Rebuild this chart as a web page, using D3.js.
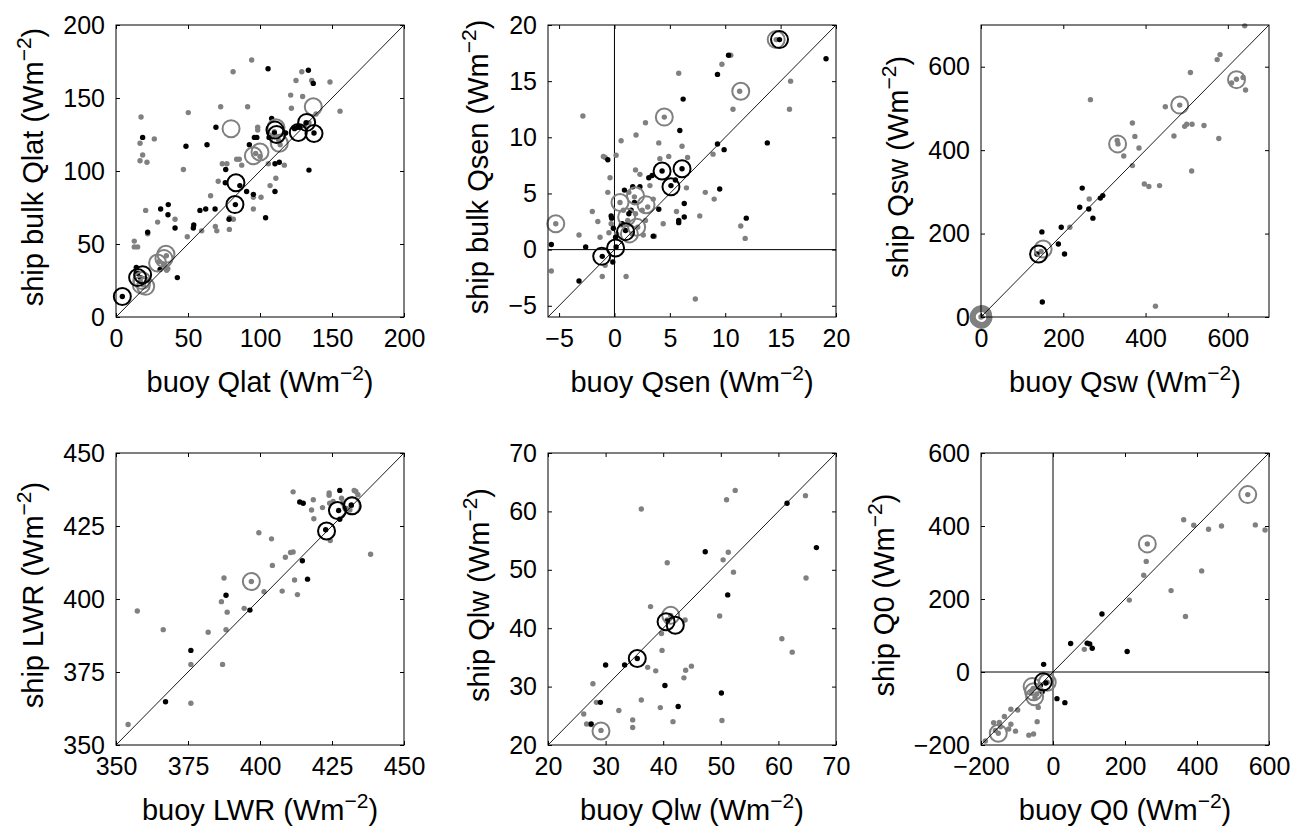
<!DOCTYPE html>
<html><head><meta charset="utf-8">
<script src="https://cdn.jsdelivr.net/npm/d3@7"></script>
<style>
body{margin:0;background:#fff}
svg{display:block}
text{font-family:"Liberation Sans",Arial,Helvetica,sans-serif;fill:#000}
</style>
</head><body>
<svg id="c" width="1294" height="827"></svg>
<script>
// ---------- Panel 1: latent heat flux ----------
const qlatDomain = [0, 200];
const qlatTicks = [0, 50, 100, 150, 200];
const qlatGray = [[12.7,52],[12.7,48],[16.7,119],[17.4,137],[18.5,111],[16.7,107],[21.5,106],[20.6,73],[22,57],[26.6,122],[28.9,65],[41,67],[35.2,32],[46.8,101],[50.2,140],[49.5,55],[59.5,59],[65.7,83],[72.7,144],[73.8,105],[71,93],[77,105],[69,62],[70,59],[78.7,60],[81.5,67],[83.8,108],[85.6,108],[87.3,104],[81.3,168],[94.2,176],[91.4,144],[95.4,82],[95.4,74],[98.4,130],[98.4,128],[100.7,82],[105.8,105],[107,90],[111,95],[113,121],[116.9,104],[121.3,152],[125,162],[129,168],[129.6,151],[121.8,143],[135.9,162],[148.6,161],[155.6,141],[138.9,139],[17,24],[19,22],[22,25],[30,38],[33,36],[35,42],[79,68],[97,112],[100,110],[110,127],[114,118],[131,131],[134,133],[36,33],[15,48]];
const qlatBlack = [[4.4,14],[14.1,34],[18.5,123],[22,58],[31,74],[30.6,32.5],[36.3,77],[36.1,70],[41,61],[42.6,27],[48.6,117],[53.7,61],[54,63],[58.3,73],[62.3,74],[63.2,118],[69.4,130],[68.8,74],[76.2,101],[75.9,92],[78.5,67],[82.9,77],[90.7,86],[92.6,118],[96.1,123],[97.8,123],[95.4,84],[103.9,68],[106.3,123],[105.6,170],[108.1,136],[110.4,105],[113.4,106],[110.4,86],[117.8,126],[124,129],[126,130],[127.5,130],[133.6,169],[134,100.6],[137,160],[137.5,126],[86,90],[110,126],[132,133],[17,27],[15,30]];
const qlatBlackCircles = [[4.4,14],[15,27],[18.5,29],[83.3,92],[82.6,77],[110.4,128],[126.6,126.4],[132.4,133.3],[137.5,125.7],[111.5,125]];
const qlatGrayCircles = [[17.6,22],[20.6,21],[28.9,37],[34.7,43],[33.3,40],[79.9,129],[95.4,110.4],[100,113],[111.1,129.6],[113.4,119],[137,144],[18,25]];

// ---------- Panel 2: sensible heat flux ----------
const qsenDomain = [-6, 20];
const qsenTicks = [-5, 0, 5, 10, 15, 20];
const qsenGray = [[-5.7,-1.9],[-5.3,2.3],[-3.2,1.3],[-2.85,11.9],[-2,3.4],[-1.5,2.5],[-1.3,1.1],[-1.1,-2.4],[-1,8.3],[-0.84,8.2],[-0.84,-1.4],[-0.6,5.1],[-0.4,6.4],[-0.3,2.3],[0.15,8.4],[0.6,9.7],[1.05,-2.4],[1.3,5.1],[1.95,10.2],[1.9,7.1],[2.3,6.7],[2.8,11.3],[3.2,5.7],[3.5,4.5],[4,9.5],[4.1,8.1],[4.4,2.3],[4.5,11.8],[4.9,8.3],[5.8,15.7],[6.1,9.2],[6.5,5.5],[5.6,3.4],[6.6,8.2],[7.3,-4.4],[7.7,3.0],[8.2,5.1],[8.9,8.5],[9,4.5],[9.7,16.5],[10.5,17.3],[10.7,12.5],[11.3,14.1],[11.4,2.1],[11.8,1.0],[14.6,18.7],[15.9,15],[15.8,12.5],[0.5,4.2],[0.8,3.5],[1.2,2.6],[1.6,1.4],[2.1,2],[2.5,3.5],[3,3.8],[1.8,4.7],[2.6,1.3],[0.2,1.4],[0.6,2.2],[-0.5,1.5],[1.9,3.2],[3.6,1.2],[2.8,2.6]];
const qsenBlack = [[-5.7,0.45],[-3.2,-2.8],[-2.6,0.24],[-1.1,-0.6],[-0.6,8],[-0.3,3],[-0.25,2.8],[-0.15,-1.1],[-0.1,1.9],[0.15,0.24],[0.9,5.3],[1,1.7],[1.3,3.2],[1.65,5.6],[1.8,4.2],[2.3,5.6],[3.4,6.6],[3.5,1.2],[4,3.6],[4.3,7],[5.1,5.7],[5.5,6.2],[5.8,2.4],[5.8,2.6],[5.9,10.6],[6.1,7.2],[6.2,13.4],[6.3,4.1],[6.3,2.9],[9.3,15.6],[9.3,9.4],[9.5,5.4],[9.9,8.9],[10.3,17.3],[11.9,2.8],[13.8,9.5],[14.9,18.7],[19.1,17],[1.5,3.5],[0.7,2.3],[3.1,6.4],[0.1,1.1]];
const qsenBlackCircles = [[-1.15,-0.6],[0.1,0.15],[1,1.6],[4.3,7],[5.1,5.6],[6.1,7.2],[14.9,18.7]];
const qsenGrayCircles = [[-5.3,2.3],[0.5,4.2],[1.9,4.8],[2.85,4],[1.1,2.9],[2,2],[1.35,1.4],[4.5,11.8],[11.4,14.1],[14.6,18.7]];

// ---------- Panel 3: shortwave ----------
const qswDomain = [0, 700];
const qswTicks = [0, 200, 400, 600];
const qswGray = [[0,0],[2,1],[146,157],[216,215],[263,283],[266,521],[331,423],[333,415],[347,386],[368,465],[374,433],[368,363],[384,405],[397,319],[408,313],[434,315],[424,26],[448,504],[469,434],[483,508],[495,457],[500,462],[509,586],[513,462],[512,350],[542,459],[574,617],[581,629],[578,428],[621,570],[609,561],[637,574],[643,544],[641,698]];
const qswBlack = [[148,204],[149,36],[136,151],[188,175],[195,215],[203,151],[240,263],[246,309],[262,259],[272,237],[290,285],[296,291]];
const qswBlackCircles = [[140,151]];
const qswGrayCircles = [[151,163],[332,415],[483,508],[621,569],[0,0],[4,3],[-3,2],[2,-4],[-4,-3],[5,-2],[-2,5],[3,6],[-5,0],[1,-6]];

// ---------- Panel 4: longwave radiation ----------
const lwrDomain = [350, 450];
const lwrTicks = [350, 375, 400, 425, 450];
const lwrGray = [[354.2,357],[357.4,395.9],[366.4,389.5],[376,377.6],[376,364.3],[382,388.6],[387,377.6],[386.6,399.1],[387.5,407.2],[388.6,395.5],[388.2,389.5],[394.5,396.8],[397,406],[399.6,422.7],[401.4,402.5],[404,420.6],[404.3,411.5],[407.7,402.7],[408.8,414.3],[410.6,415.9],[411.5,416.1],[412,406.5],[413,401.5],[411.5,436.7],[417.9,430.5],[418.5,434],[418.7,427.5],[421.7,431.3],[424,436.3],[424,435.5],[424.2,432.8],[424.4,420],[425.4,433.4],[428.3,434.5],[428.8,432.8],[432.7,437.2],[433.3,436.8],[434,435.7],[438.4,415.3],[430,431],[431.2,430.5],[431.7,431.9]];
const lwrBlack = [[367.2,364.8],[376,382.4],[388.2,401.3],[396.5,396.2],[413.8,433.2],[415,432.8],[414.7,413.1],[416.5,406.8],[422.8,423.7],[427.7,437.2],[427.3,430.3],[427.7,427.3],[431.7,432.2]];
const lwrBlackCircles = [[423.1,423.3],[426.9,430.3],[432,431.9]];
const lwrGrayCircles = [[397,406],[431.7,431.9]];

// ---------- Panel 5: net longwave ----------
const qlwDomain = [20, 70];
const qlwTicks = [20, 30, 40, 50, 60, 70];
const qlwGray = [[26.2,25.3],[26.7,23.6],[27.4,23.5],[27.8,30.5],[28.4,27.3],[29.2,22.5],[32.3,25.9],[34.7,24.3],[34.7,23],[36.2,60.4],[36.2,27.7],[37.3,33.3],[37.8,43.7],[38.7,32.7],[39.5,26.4],[39.8,36.2],[39.7,39.1],[40.7,51.2],[40.7,41.4],[41.7,24],[43.6,31.5],[43.9,32.8],[43.8,41.4],[44.9,33.5],[49.8,42.1],[50.2,24.2],[50.4,51.7],[51,62],[51.3,53],[52.2,49.6],[52.5,63.6],[60.6,38.2],[62.4,35.9],[64.7,62.7],[64.8,48.6],[41.3,42.2]];
const qlwBlack = [[27.5,23.6],[29.1,27.3],[30,33.7],[33.3,33.7],[35.5,34.8],[40.3,30.2],[40.7,41.2],[42.6,26.6],[47.3,53.1],[50.1,28.9],[51.2,45.7],[61.5,61.4],[66.6,53.8]];
const qlwBlackCircles = [[35.5,34.8],[40.5,41.1],[42.1,40.5]];
const qlwGrayCircles = [[41.3,42.2],[29.2,22.4]];

// ---------- Panel 6: net heat flux ----------
const q0Domain = [-200, 600];
const q0Ticks = [-200, 0, 200, 400, 600];
const q0Gray = [[-188,-189],[-165,-139],[-149,-138],[-146,-150],[-135,-122],[-123,-156],[-117,-143],[-117,-102],[-104,-162],[-98,-104],[-67,-173],[-54,-170],[-44,-136],[-41,-97],[87,62],[212,197],[252,265],[259,303],[262,351],[328,223],[363,417],[368,152],[391,402],[413,277],[432,391],[468,400],[541,486],[562,403],[589,389],[-152,-168],[-160,-160],[-55,-45],[-45,-60],[-50,-70],[-16,-28],[-60,-55],[-35,-50]];
const q0Black = [[-26,21],[11,-73],[33,-84],[49,78],[95,79],[102,77],[109,65],[136,159],[206,56],[-35,-36],[-30,-54],[-20,-30]];
const q0BlackCircles = [[-27,-27]];
const q0GrayCircles = [[-152,-168],[-58,-40],[-54,-54],[-51,-68],[-16,-28],[262,351],[541,486]];

const xLabels = ["buoy Qlat", "buoy Qsen", "buoy Qsw", "buoy LWR", "buoy Qlw", "buoy Q0"];
const yLabels = ["ship bulk Qlat", "ship bulk Qsen", "ship Qsw", "ship LWR", "ship Qlw", "ship Q0"];
const unitMain = " (Wm", unitSup = "\u22122", unitEnd = ")";

const panels = [
  {dom: qlatDomain, ticks: qlatTicks, gray: qlatGray, black: qlatBlack, gc: qlatGrayCircles, bc: qlatBlackCircles, zero: false},
  {dom: qsenDomain, ticks: qsenTicks, gray: qsenGray, black: qsenBlack, gc: qsenGrayCircles, bc: qsenBlackCircles, zero: true},
  {dom: qswDomain, ticks: qswTicks, gray: qswGray, black: qswBlack, gc: qswGrayCircles, bc: qswBlackCircles, zero: false},
  {dom: lwrDomain, ticks: lwrTicks, gray: lwrGray, black: lwrBlack, gc: lwrGrayCircles, bc: lwrBlackCircles, zero: false},
  {dom: qlwDomain, ticks: qlwTicks, gray: qlwGray, black: qlwBlack, gc: qlwGrayCircles, bc: qlwBlackCircles, zero: false},
  {dom: q0Domain, ticks: q0Ticks, gray: q0Gray, black: q0Black, gc: q0GrayCircles, bc: q0BlackCircles, zero: true}
];

// ---------- layout ----------
const colX = [116, 548, 981], rowY = [25, 453];
const W = 288, H = 292;
const GRAY = "#808080";
const TICK_FS = 25, LAB_FS = 29, SUP_FS = 21;

const svg = d3.select("#c");
svg.append("rect").attr("width", 1294).attr("height", 827).attr("fill", "#fff");

function addLabel(sel, main) {
  sel.append("tspan").text(main + unitMain);
  sel.append("tspan").attr("font-size", SUP_FS).attr("dy", -12).text(unitSup);
  sel.append("tspan").attr("dy", 12).text(unitEnd);
}

panels.forEach((p, i) => {
  const g = svg.append("g").attr("transform", `translate(${colX[i % 3]},${rowY[Math.floor(i / 3)]})`);
  const x = d3.scaleLinear().domain(p.dom).range([0, W]);
  const y = d3.scaleLinear().domain(p.dom).range([H, 0]);

  // zero lines
  if (p.zero) {
    g.append("line").attr("x1", x(0)).attr("x2", x(0)).attr("y1", 0).attr("y2", H)
      .attr("stroke", "#000").attr("stroke-width", 1);
    g.append("line").attr("x1", 0).attr("x2", W).attr("y1", y(0)).attr("y2", y(0))
      .attr("stroke", "#000").attr("stroke-width", 1);
  }

  // markers (not clipped, like the original)
  const pts = g.append("g");
  pts.selectAll(".gd").data(p.gray).join("circle")
    .attr("cx", d => x(d[0])).attr("cy", d => y(d[1])).attr("r", 2.7).attr("fill", GRAY);
  pts.selectAll(".bd").data(p.black).join("circle")
    .attr("cx", d => x(d[0])).attr("cy", d => y(d[1])).attr("r", 2.7).attr("fill", "#000");
  pts.selectAll(".gc").data(p.gc).join("circle")
    .attr("cx", d => x(d[0])).attr("cy", d => y(d[1])).attr("r", 8.5)
    .attr("fill", "none").attr("stroke", GRAY).attr("stroke-width", 2);
  pts.selectAll(".bc").data(p.bc).join("circle")
    .attr("cx", d => x(d[0])).attr("cy", d => y(d[1])).attr("r", 8.5)
    .attr("fill", "none").attr("stroke", "#000").attr("stroke-width", 2);

  // 1:1 line
  g.append("line").attr("x1", x(p.dom[0])).attr("y1", y(p.dom[0]))
    .attr("x2", x(p.dom[1])).attr("y2", y(p.dom[1]))
    .attr("stroke", "#000").attr("stroke-width", 0.9);

  // axes with inward ticks on all sides
  const fmt = d3.format("d");
  const ax = g.append("g").attr("transform", `translate(0,${H})`)
    .call(d3.axisBottom(x).tickValues(p.ticks).tickFormat(fmt).tickSizeInner(-4).tickSizeOuter(0).tickPadding(12));
  const ay = g.append("g")
    .call(d3.axisLeft(y).tickValues(p.ticks).tickFormat(fmt).tickSizeInner(-4).tickSizeOuter(0).tickPadding(11));
  g.append("g").call(d3.axisTop(x).tickValues(p.ticks).tickFormat("").tickSizeInner(-4).tickSizeOuter(0));
  g.append("g").attr("transform", `translate(${W},0)`)
    .call(d3.axisRight(y).tickValues(p.ticks).tickFormat("").tickSizeInner(-4).tickSizeOuter(0));
  g.selectAll(".domain").remove();
  g.selectAll(".tick line").attr("stroke", "#000");
  [ax, ay].forEach(a => a.selectAll("text").attr("font-size", TICK_FS)
    .attr("font-family", '"Liberation Sans",Arial,Helvetica,sans-serif').attr("fill", "#000"));

  g.append("rect").attr("width", W).attr("height", H).attr("fill", "none")
    .attr("stroke", "#000").attr("stroke-width", 1);

  // x label
  const xl = g.append("text").attr("x", W / 2).attr("y", H + 75)
    .attr("text-anchor", "middle").attr("font-size", LAB_FS);
  addLabel(xl, xLabels[i]);

  // y label placed left of the tick labels
  const bb = ay.node().getBBox();
  const lx = bb.x - 20;
  const yl = g.append("text").attr("transform", `translate(${lx},${H / 2 - 4}) rotate(-90)`)
    .attr("text-anchor", "middle").attr("font-size", LAB_FS);
  addLabel(yl, yLabels[i]);
});
</script>
</body></html>
